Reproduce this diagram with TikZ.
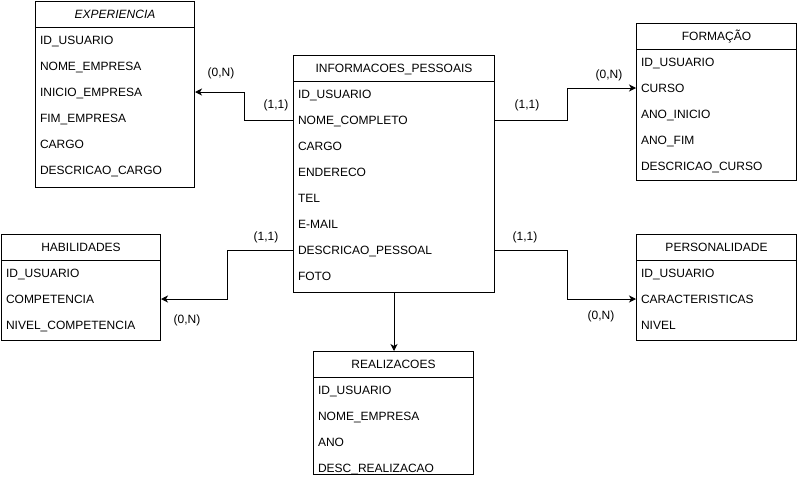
\documentclass[tikz,border=0pt]{standalone}
\usepackage{fontspec}
\setmainfont{Liberation Sans}
\usetikzlibrary{arrows.meta}
\newcommand\ertable[7]{%
  \node[tbl, minimum width=#4pt, minimum height=#5pt] (#1) at (#2,#3) {};
  \draw ([yshift=-26pt]#1.north west) -- ([yshift=-26pt]#1.north east);
  \node[ttl] (#1-t) at ([yshift=-13pt]#1.north) {#6};
  \foreach \f [count=\i, evaluate=\i as \dy using 13+26*\i] in {#7}
    \node[fld] (#1-\i) at ([xshift=4.5pt,yshift=-\dy pt]#1.north west) {\f};
}
\begin{document}
\begin{tikzpicture}[x=1pt,y=-1pt, line width=1pt,
  txt/.style={font=\fontsize{12}{14}\selectfont, inner sep=0pt, text height=8.6pt, text depth=0pt},
  tbl/.style={draw, anchor=north west, inner sep=0pt, fill=white},
  ttl/.style={txt, anchor=center},
  fld/.style={txt, anchor=west},
  card/.style={txt},
  conn/.style={draw, line width=1pt, -{Stealth[length=7pt,width=7pt,inset=2pt]}}]
\useasboundingbox (0,0) rectangle (797,485);

\ertable{exp}{35}{1}{159}{186}{\itshape EXPERIENCIA}{ID\_USUARIO,NOME\_EMPRESA,INICIO\_EMPRESA,FIM\_EMPRESA,CARGO,DESCRICAO\_CARGO}
\ertable{info}{293}{55}{201}{237}{INFORMACOES\_PESSOAIS}{ID\_USUARIO,NOME\_COMPLETO,CARGO,ENDERECO,TEL,E-MAIL,DESCRICAO\_PESSOAL,FOTO}
\ertable{form}{636}{23}{160}{157}{FORMAÇÃO}{ID\_USUARIO,CURSO,ANO\_INICIO,ANO\_FIM,DESCRICAO\_CURSO}
\ertable{pers}{636}{234}{160}{106}{PERSONALIDADE}{ID\_USUARIO,CARACTERISTICAS,NIVEL}
\ertable{hab}{1}{234}{159}{106}{HABILIDADES}{ID\_USUARIO,COMPETENCIA,NIVEL\_COMPETENCIA}
\ertable{real}{313}{351}{160}{123}{REALIZACOES}{ID\_USUARIO,NOME\_EMPRESA,ANO,DESC\_REALIZACAO}

\draw[conn] (info.west |- info-2.west) -- ++(-49,0) |- (exp.east |- exp-3.west);
\draw[conn] (info.east |- info-2.west) -- ++(72,0) |- (form.west |- form-2.west);
\draw[conn] (info.east |- info-7.west) -- ++(72,0) |- (pers.west |- pers-2.west);
\draw[conn] (info.west |- info-7.west) -- ++(-66,0) |- (hab.east |- hab-2.west);
\draw[conn] (info.south) -- (info.south |- real.north);

\node[card] (c1) at (221,72) {(0,N)};
\node[card] (c2) at (276,104) {(1,1)};
\node[card] (c3) at (527,104) {(1,1)};
\node[card] (c4) at (609,74) {(0,N)};
\node[card] (c5) at (266,236) {(1,1)};
\node[card] (c6) at (187,319) {(0,N)};
\node[card] (c7) at (525,236) {(1,1)};
\node[card] (c8) at (601,315) {(0,N)};
\end{tikzpicture}
\end{document}
